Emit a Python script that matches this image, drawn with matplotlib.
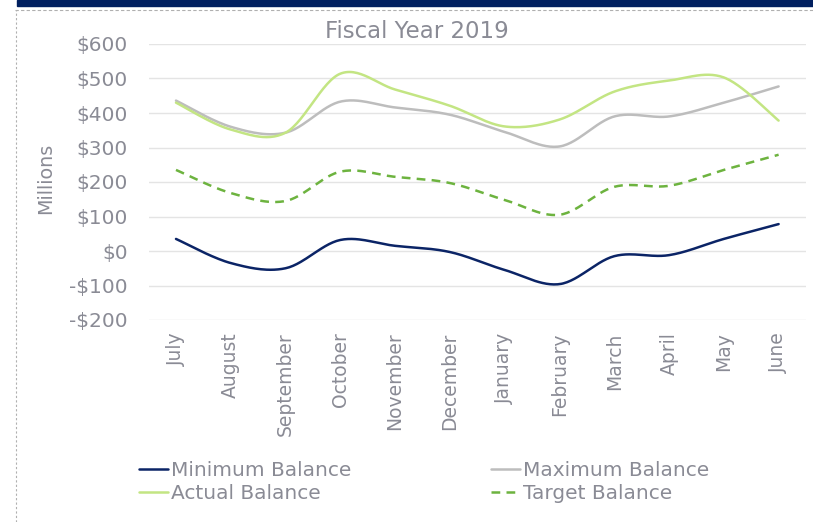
import numpy as np
import matplotlib
matplotlib.use("Agg")
import matplotlib.pyplot as plt
from matplotlib.lines import Line2D
from matplotlib.patches import Rectangle

months = ["July", "August", "September", "October", "November", "December",
          "January", "February", "March", "April", "May", "June"]
minimum_balance = [35, -35, -50, 32, 15, -3, -55, -96, -15, -12, 35, 78]
maximum_balance = [436, 360, 343, 433, 416, 395, 345, 303, 390, 390, 430, 477]
actual_balance = [430, 352, 343, 514, 468, 421, 361, 381, 462, 494, 503, 378]
target_balance = [235, 168, 145, 230, 215, 197, 148, 105, 186, 189, 235, 279]
y_ticks = [-200, -100, 0, 100, 200, 300, 400, 500, 600]

TEXT = "#8a8b95"
NAVY = "#0b2466"
GRAY = "#bdbdbd"
LIGHT_GREEN = "#c3e583"
GREEN = "#6db33f"


def smooth(xs, ys, steps=30):
    """Catmull-Rom style Bezier smoothing through every data point."""
    p = np.column_stack([xs, ys]).astype(float)
    ext = np.vstack([p[0], p, p[-1]])
    out = []
    t = np.linspace(0, 1, steps)[:, None]
    for i in range(len(p) - 1):
        p0, p1, p2, p3 = ext[i], ext[i + 1], ext[i + 2], ext[i + 3]
        c1 = p1 + (p2 - p0) / 6.0
        c2 = p2 - (p3 - p1) / 6.0
        seg = ((1 - t) ** 3) * p1 + 3 * ((1 - t) ** 2) * t * c1 \
            + 3 * (1 - t) * t ** 2 * c2 + t ** 3 * p2
        out.append(seg if i == 0 else seg[1:])
    s = np.vstack(out)
    return s[:, 0], s[:, 1]


fig = plt.figure(figsize=(8.13, 5.22), dpi=100)
fig.patch.set_facecolor("white")

# frame decorations: navy band on top, dashed outline of the chart area
fig.patches.append(Rectangle((17 / 813, 1 - 6 / 522), 1, 6 / 522,
                             transform=fig.transFigure, color="#001f5f", zorder=0))
fig.lines.append(Line2D([15 / 813, 1], [1 - 9.5 / 522] * 2, transform=fig.transFigure,
                        color="#b0b0b0", lw=0.8, ls=(0, (3, 2))))
fig.lines.append(Line2D([15.5 / 813] * 2, [0, 1 - 9.5 / 522], transform=fig.transFigure,
                        color="#b0b0b0", lw=0.8, ls=(0, (2, 2))))

ax = fig.add_axes([148.6 / 813, 1 - 320 / 522, 657.4 / 813, 276 / 522])
x = np.arange(len(months))

series = [
    (minimum_balance, NAVY, "-", "Minimum Balance"),
    (actual_balance, LIGHT_GREEN, "-", "Actual Balance"),
    (maximum_balance, GRAY, "-", "Maximum Balance"),
    (target_balance, GREEN, (0, (3.5, 2.5)), "Target Balance"),
]
draw_order = [2, 1, 3, 0]
handles = {}
for idx in draw_order:
    vals, color, ls, label = series[idx]
    sx, sy = smooth(x, vals)
    ln, = ax.plot(sx, sy, color=color, ls=ls, lw=1.8, label=label,
                  solid_capstyle="round")
    handles[idx] = ln

ax.set_xlim(-0.5, len(months) - 0.5)
ax.set_ylim(-200, 600)
ax.set_yticks(y_ticks)
ax.set_yticklabels([("-$%d" % -v) if v < 0 else "$%d" % v for v in y_ticks])
ax.set_xticks(x)
ax.set_xticklabels(months, rotation=90)
ax.grid(axis="y", color="#e4e4e4", lw=1)
ax.set_axisbelow(True)
for sp in ax.spines.values():
    sp.set_visible(False)
ax.tick_params(axis="y", length=0, pad=15, labelsize=14.5, labelcolor=TEXT)
ax.tick_params(axis="x", length=0, pad=9, labelsize=13.5, labelcolor=TEXT)

fig.text(417 / 813, 1 - 31 / 522, "Fiscal Year 2019", ha="center", va="center",
         fontsize=16.5, color=TEXT)
fig.text(46 / 813, 1 - 178 / 522, "Millions", rotation=90, ha="center",
         va="center", fontsize=13.8, color=TEXT)

leg = fig.legend([handles[i] for i in range(4)], [s[3] for s in series],
                 ncol=2, loc="upper left", bbox_to_anchor=(139 / 813, 1 - 461 / 522),
                 frameon=False, fontsize=14.5, labelcolor=TEXT,
                 handlelength=1.45, handletextpad=0.15, columnspacing=6.9,
                 labelspacing=0.22, borderpad=0, borderaxespad=0)

fig.savefig("out.png", dpi=100, facecolor="white")
